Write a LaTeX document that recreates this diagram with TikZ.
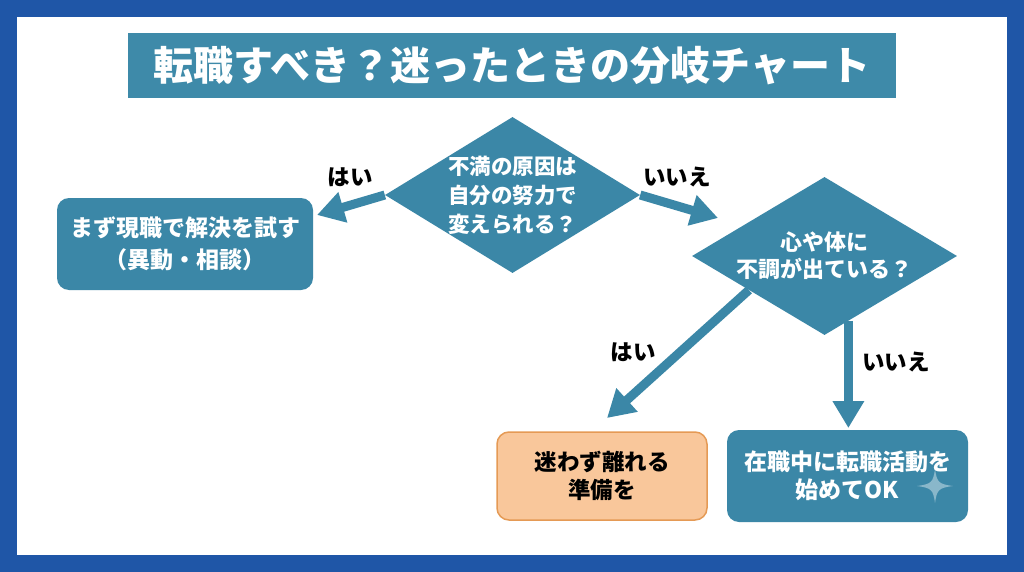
\documentclass[tikz,border=0pt]{standalone}
\usepackage{fontspec}
\setmainfont{Noto Sans CJK JP}
\usetikzlibrary{arrows.meta,shapes.geometric,calc}
\definecolor{framecol}{HTML}{1F56A7}
\definecolor{mainblue}{HTML}{3B87A7}
\definecolor{titleblue}{HTML}{3E8AA9}
\definecolor{orfill}{HTML}{F9C79B}
\definecolor{ordraw}{HTML}{E59A55}
\tikzset{
  dia/.style={shape=diamond, fill=mainblue, inner sep=0pt},
  diatext/.style={text=white, font=\bfseries\fontsize{21.5}{29}\selectfont, align=center, inner sep=0pt},
  bluebox/.style={rounded corners=12pt, fill=mainblue, text=white, align=center, font=\bfseries\fontsize{23}{32}\selectfont, inner sep=0pt},
  orbox/.style={rounded corners=12pt, fill=orfill, draw=ordraw, line width=1.5pt, text=black, align=center, font=\bfseries\fontsize{22.5}{28}\selectfont, inner sep=0pt},
  lbl/.style={text=black, font=\bfseries\fontsize{22.5}{26}\selectfont, inner sep=0pt},
  flow/.style={draw=mainblue, line width=9pt, -{Triangle[width=30pt,length=27pt]}},
  titlebar/.style={fill=titleblue, text=white, font=\bfseries\fontsize{40}{46}\selectfont, minimum width=768pt, minimum height=65pt, inner sep=0pt}
}
\begin{document}
\begin{tikzpicture}[x=1pt,y=-1pt]
\useasboundingbox (0,0) rectangle (1024,572);
\fill[framecol] (0,0) rectangle (1024,572);
\fill[white] (17,17) rectangle (1007,555);
\node[titlebar] (title) at (512,65.5) {転職すべき？迷ったときの分岐チャート};
% diamonds
\node[dia, minimum width=255pt, minimum height=156pt] (d1) at (512.5,195) {};
\node[diatext] (d1t) at (d1.center) {不満の原因は\\自分の努力で\\変えられる？};
\node[dia, minimum width=265pt, minimum height=158pt] (d2) at (824.5,256) {};
\node[diatext, font=\bfseries\fontsize{22}{27}\selectfont] (d2t) at (d2.center) {心や体に\\不調が出ている？};
% boxes
\node[bluebox, minimum width=256pt, minimum height=92pt] (b1) at (185,244) {まず現職で解決を試す\\（異動・相談）};
\node[orbox, minimum width=210pt, minimum height=88pt] (b3) at (602,476) {迷わず離れる\\準備を};
\node[bluebox, minimum width=241pt, minimum height=92pt, font=\bfseries\fontsize{23}{28}\selectfont] (b4) at (847.5,476) {在職中に転職活動を\\始めてOK};
% sparkle
\fill[white, opacity=0.4] (935,469) .. controls (937,482) and (938,484) .. (953,486)
  .. controls (938,488) and (937,490) .. (935,503)
  .. controls (933,490) and (932,488) .. (917,486)
  .. controls (932,484) and (933,482) .. (935,469) -- cycle;
% connectors
\coordinate (a1end) at (317,215);
\coordinate (a2end) at (718,218);
\coordinate (a3end) at (607,418);
\coordinate (a4start) at ($(d2.south)!0.18!(d2.east)$);
\coordinate (a4end) at (848,428);
\draw[flow] (d1.west) -- (a1end);
\draw[flow] (d1.east) -- (a2end);
\draw[flow] ($(d2.west)!0.43!(d2.south)$) -- (a3end);
\draw[flow] (a4start) -- (a4start |- a4end);
% labels
\node[lbl] (l1) at (350,177) {はい};
\node[lbl] (l2) at (677,177) {いいえ};
\node[lbl] (l3) at (633,352) {はい};
\node[lbl] (l4) at (896,362) {いいえ};
\end{tikzpicture}
\end{document}
